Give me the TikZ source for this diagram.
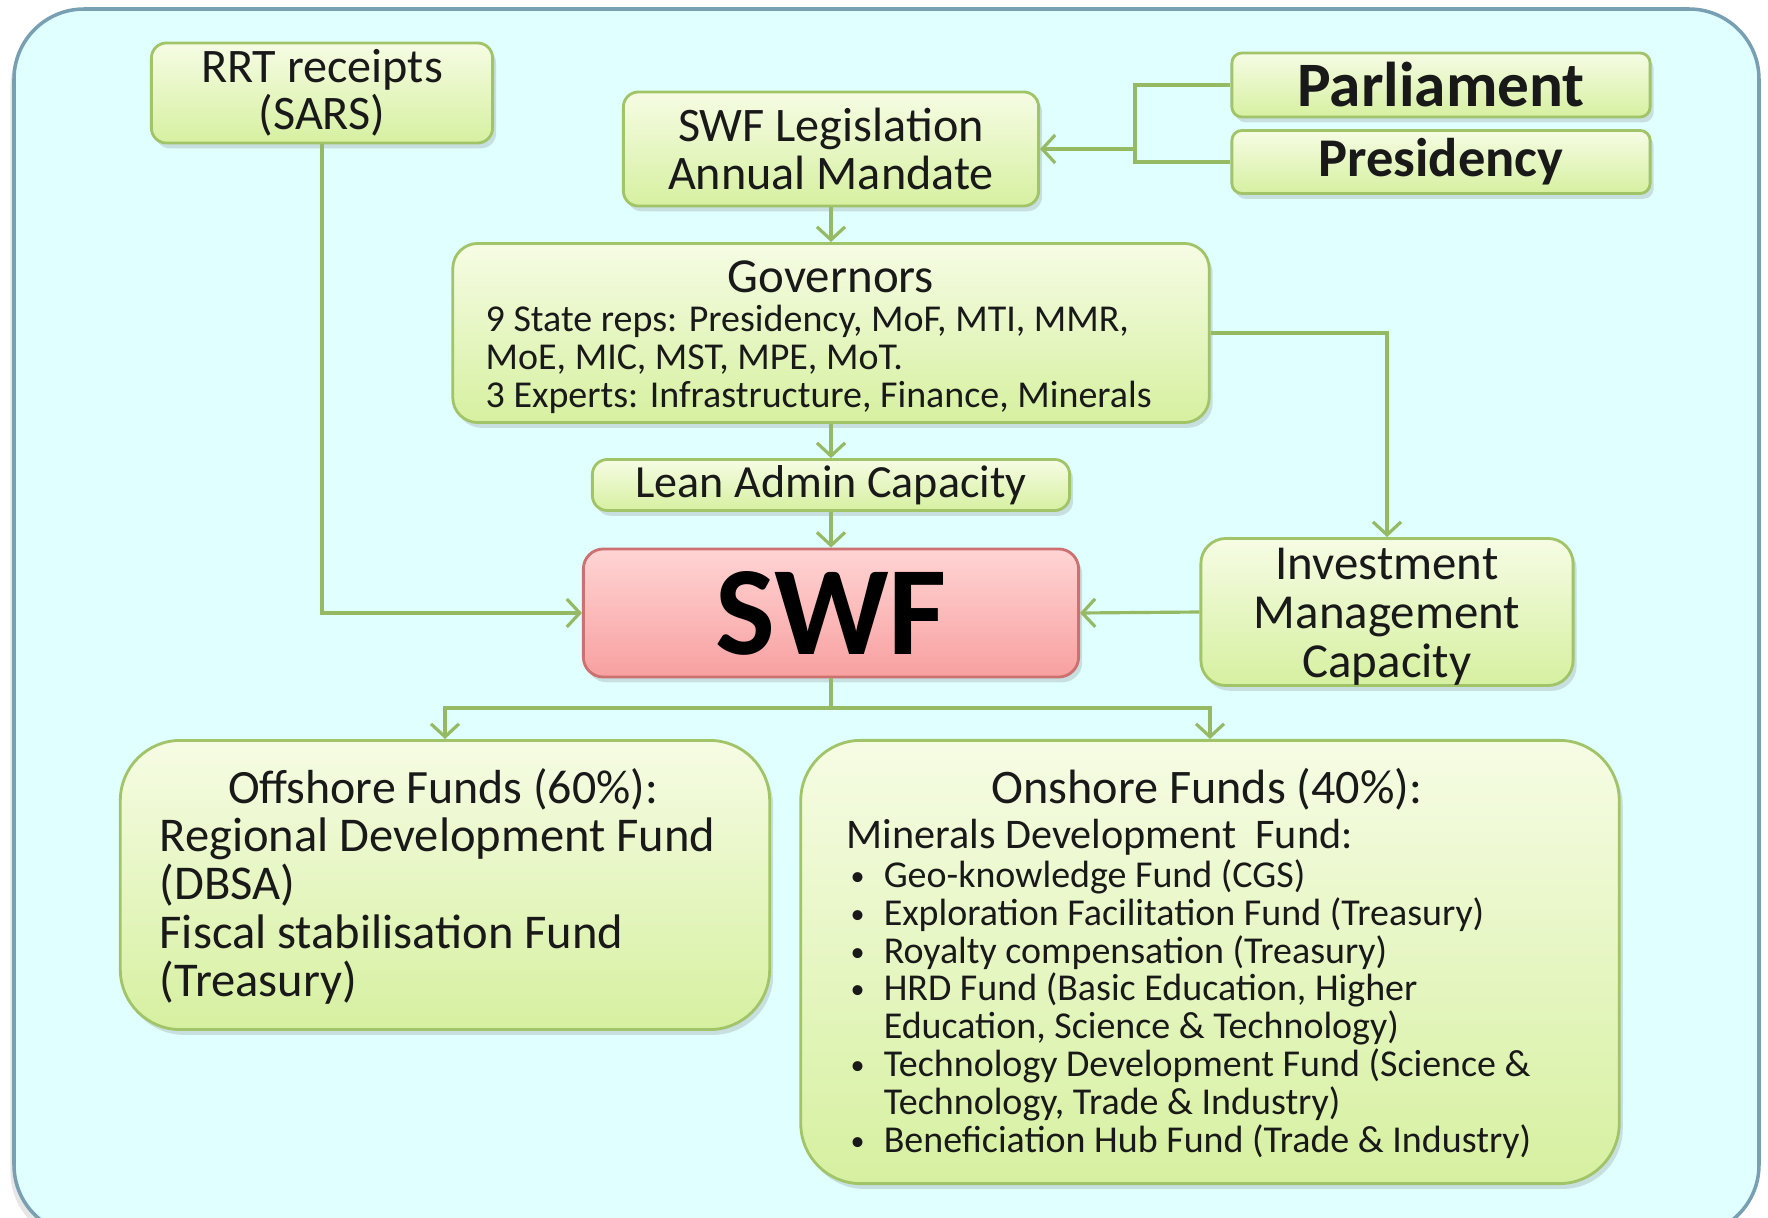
\documentclass[tikz,border=0pt]{standalone}
\usepackage{fontspec}
\setmainfont{Carlito}
\usetikzlibrary{arrows.meta,shadows}
\definecolor{sky}{RGB}{224,255,255}
\definecolor{skyline}{RGB}{120,160,178}
\definecolor{leaftop}{RGB}{246,252,228}
\definecolor{leafbot}{RGB}{214,240,160}
\definecolor{leafline}{RGB}{162,196,104}
\definecolor{rosetop}{RGB}{255,212,212}
\definecolor{rosebot}{RGB}{248,160,160}
\definecolor{roseline}{RGB}{205,112,112}
\definecolor{wire}{RGB}{150,186,100}
\definecolor{ink}{RGB}{25,25,25}
\newcommand{\fsize}[2]{\fontsize{#1}{#2}\selectfont}
\newcommand{\drawflow}{\draw[flow]}
\newcommand{\bul}{\makebox[9.4pt][l]{\raisebox{0.6pt}{\fsize{8}{8}\textbullet}}}
\tikzset{
  greenbox/.style={draw=leafline, line width=0.8pt, top color=leaftop, bottom color=leafbot,
    rounded corners=#1, inner sep=0pt, align=center, text=ink,
    drop shadow={opacity=0.25, shadow xshift=1pt, shadow yshift=-1.5pt}},
  greenbox/.default=0.15cm,
  swfbox/.style={draw=roseline, line width=0.8pt, top color=rosetop, bottom color=rosebot,
    rounded corners=0.2cm, inner sep=0pt,
    drop shadow={opacity=0.25, shadow xshift=1pt, shadow yshift=-1.5pt}},
  wire/.style={draw=wire, line width=0.9pt},
  flow/.style={wire, -{Straight Barb[length=1.3mm,width=2.8mm]}},
  plain/.style={inner sep=0pt, text=ink}
}
\begin{document}
\begin{tikzpicture}[x=0.01cm, y=-0.01cm]
\useasboundingbox (0,0) rectangle (1768,1218);
\draw[draw=skyline, fill=sky, line width=1pt, rounded corners=0.7cm,
  drop shadow={opacity=0.2, shadow xshift=-1pt, shadow yshift=-2pt}] (14,9) rectangle (1759,1235);

\node[greenbox, minimum width=3.41cm, minimum height=1.0cm, font=\fsize{13.7}{13.4}] (rrt) at (322,93) {RRT receipts\\(SARS)};
\node[greenbox, minimum width=4.15cm, minimum height=1.14cm, font=\fsize{13.7}{13.8}] (leg) at (831,149) {SWF Legislation\\Annual Mandate};
\node[greenbox=0.1cm, minimum width=4.18cm, minimum height=0.64cm, font=\bfseries\fsize{18}{18}] (parl) at (1441,85) {Parliament};
\node[greenbox=0.1cm, minimum width=4.18cm, minimum height=0.63cm, font=\bfseries\fsize{15.5}{15.5}] (pres) at (1441,162) {Presidency};

\node[greenbox=0.25cm, minimum width=7.56cm, minimum height=1.79cm] (gov) at (831,333) {};
\node[plain, font=\fsize{13.9}{14}] (govhead) at (831,277) {Governors};
\node[plain, anchor=west, align=left, font=\fsize{10.8}{10.8}] (govtext) at (485,359)
  {9 State reps: Presidency, MoF, MTI, MMR,\\MoE, MIC, MST, MPE, MoT.\\3 Experts: Infrastructure, Finance, Minerals};

\node[greenbox, minimum width=4.77cm, minimum height=0.51cm, font=\fsize{13.1}{13}] (lean) at (831,485) {Lean Admin Capacity};
\node[swfbox, minimum width=4.95cm, minimum height=1.28cm, font=\bfseries\fsize{36}{36}] (swf) at (831,613) {SWF};
\node[greenbox=0.25cm, minimum width=3.72cm, minimum height=1.47cm] (inv) at (1387,612) {};
\node[plain, align=center, font=\fsize{13.9}{13.9}] (invtext) at (1387,617) {Investment\\Management\\Capacity};

\node[greenbox=0.6cm, minimum width=6.49cm, minimum height=2.89cm] (off) at (445,885) {};
\node[plain, font=\fsize{13.6}{13.8}] (offhead) at (443,789) {Offshore Funds (60\%):};
\node[plain, anchor=west, align=left, font=\fsize{13.8}{13.8}] (offtext) at (159,911)
  {Regional Development Fund\\(DBSA)\\Fiscal stabilisation Fund\\(Treasury)};

\node[greenbox=0.6cm, minimum width=8.18cm, minimum height=4.43cm] (on) at (1210,962) {};
\node[plain, font=\fsize{13.7}{13.8}] (onhead) at (1207,789) {Onshore Funds (40\%):};
\node[plain, anchor=west, font=\fsize{12}{12}] (onsub) at (846,837) {Minerals Development~ Fund:};
\node[plain, anchor=west, align=left, font=\fsize{10.8}{10.75}] (onlist) at (850,1009)
  {\bul Geo-knowledge Fund (CGS)\\
   \bul Exploration Facilitation Fund (Treasury)\\
   \bul Royalty compensation (Treasury)\\
   \bul HRD Fund (Basic Education, Higher\\
   \hspace*{9.4pt}Education, Science \& Technology)\\
   \bul Technology Development Fund (Science \&\\
   \hspace*{9.4pt}Technology, Trade \& Industry)\\
   \bul Beneficiation Hub Fund (Trade \& Industry)};

\coordinate (join) at (1135,149);
\coordinate (split) at (831,708);
\draw[wire] (parl.west) -| (join);
\draw[wire] (pres.west) -| (join);
\drawflow (join) -- (leg.east);
\drawflow (leg.south) -- (gov.north);
\drawflow (gov.south) -- (lean.north);
\drawflow (lean.south) -- (swf.north);
\drawflow (gov.east) -| (inv.north);
\drawflow (inv.west) -- (swf.east);
\drawflow (rrt.south) |- (swf.west);
\draw[wire] (swf.south) -- (split);
\drawflow (split) -| (off.north);
\drawflow (split) -| (on.north);
\end{tikzpicture}
\end{document}
